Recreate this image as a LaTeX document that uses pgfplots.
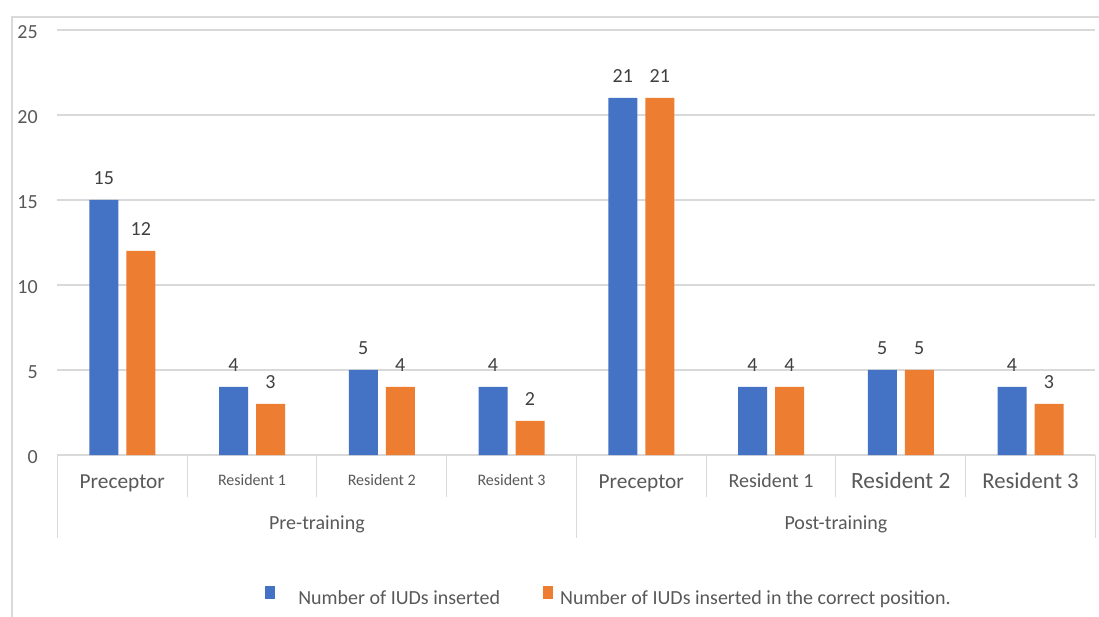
\documentclass[border=0pt]{standalone}
\usepackage{pgfplots}
\pgfplotsset{compat=1.18}
\usepackage{fontspec}
\setmainfont{Carlito}
\definecolor{xblue}{HTML}{4472C4}
\definecolor{xorange}{HTML}{ED7D31}
\definecolor{gridc}{HTML}{D9D9D9}
\definecolor{txt}{HTML}{595959}
\definecolor{lbl}{HTML}{404040}
\newcommand{\fs}[1]{\fontsize{#1}{#1}\selectfont}
\begin{document}
\begin{tikzpicture}
\path[use as bounding box] (-43.05pt,-121.5pt) rectangle (781.2pt,341.25pt);
\fill[white] (-43.05pt,-121.5pt) rectangle (781.2pt,341.25pt);
\draw[gridc, line width=1.1pt] (-34.05pt,-140pt) -- (-34.05pt,328.5pt) -- (800pt,328.5pt);
\begin{axis}[
  at={(0,0)}, anchor=south west,
  scale only axis, width=778.5pt, height=318.75pt,
  xmin=-0.5, xmax=7.5, ymin=0, ymax=25,
  clip=false,
  axis line style={draw=none},
  /pgf/number format/assume math mode=true,
  ytick={0,5,10,15,20,25},
  ymajorgrids, grid style={gridc, line width=0.8pt},
  major tick length=0pt,
  yticklabel style={font=\fs{15}, text=txt, anchor=east, inner sep=0pt, xshift=-14.6pt, yshift=-1.5pt},
  xtick={0,1,2,3,4,5,6,7},
  xticklabels={{\fs{16}Preceptor},{\fs{12}\raisebox{2pt}{Resident 1}},{\fs{12}\raisebox{2pt}{Resident 2}},{\fs{12}\raisebox{2pt}{Resident 3}},{\fs{16}Preceptor},{\fs{15}\raisebox{1pt}{Resident 1}},{\fs{17.5}Resident 2},{\fs{17}Resident 3}},
  xticklabel style={text=txt, anchor=base, inner sep=0pt, yshift=-25pt},
  ybar=6pt, bar width=21.75pt,
  nodes near coords,
  nodes near coords style={font=\fs{15}, text=lbl, anchor=base, inner sep=0pt, yshift=11.8pt},
  legend columns=2,
  legend style={at={(0.2,-0.332)}, anchor=west, draw=none, fill=none, inner sep=0pt,
    font=\fs{15}, text=txt, nodes={inner sep=0pt},
    /tikz/column 1/.style={column sep=17.25pt},
    /tikz/column 2/.style={column sep=32.25pt},
    /tikz/column 3/.style={column sep=5.25pt}},
]
\addplot[fill=xblue, draw=none, legend image code/.code={\fill[xblue] (0pt,0pt) rectangle (7.5pt,9.75pt);}]
  coordinates {(0,15)(1,4)(2,5)(3,4)(4,21)(5,4)(6,5)(7,4)};
\addplot[fill=xorange, draw=none, legend image code/.code={\fill[xorange] (0pt,0pt) rectangle (7.5pt,9.75pt);}]
  coordinates {(0,12)(1,3)(2,4)(3,2)(4,21)(5,4)(6,5)(7,3)};
\legend{Number of IUDs inserted, Number of IUDs inserted in the correct position.}
\pgfplotsinvokeforeach{-0.5,0.5,1.5,2.5,3.5,4.5,5.5,6.5,7.5}{
  \draw[gridc, line width=0.8pt] (axis cs:#1,0) -- ++(0pt,-31.5pt);
}
\pgfplotsinvokeforeach{-0.5,3.5,7.5}{
  \draw[gridc, line width=0.8pt] (axis cs:#1,0) -- ++(0pt,-62.25pt);
}
\node[anchor=base, font=\fs{15}, text=txt, inner sep=0pt] at (axis cs:1.5,0) [yshift=-55.9pt] {Pre-training};
\node[anchor=base, font=\fs{15}, text=txt, inner sep=0pt] at (axis cs:5.5,0) [yshift=-55.9pt] {Post-training};
\end{axis}
\end{tikzpicture}
\end{document}
